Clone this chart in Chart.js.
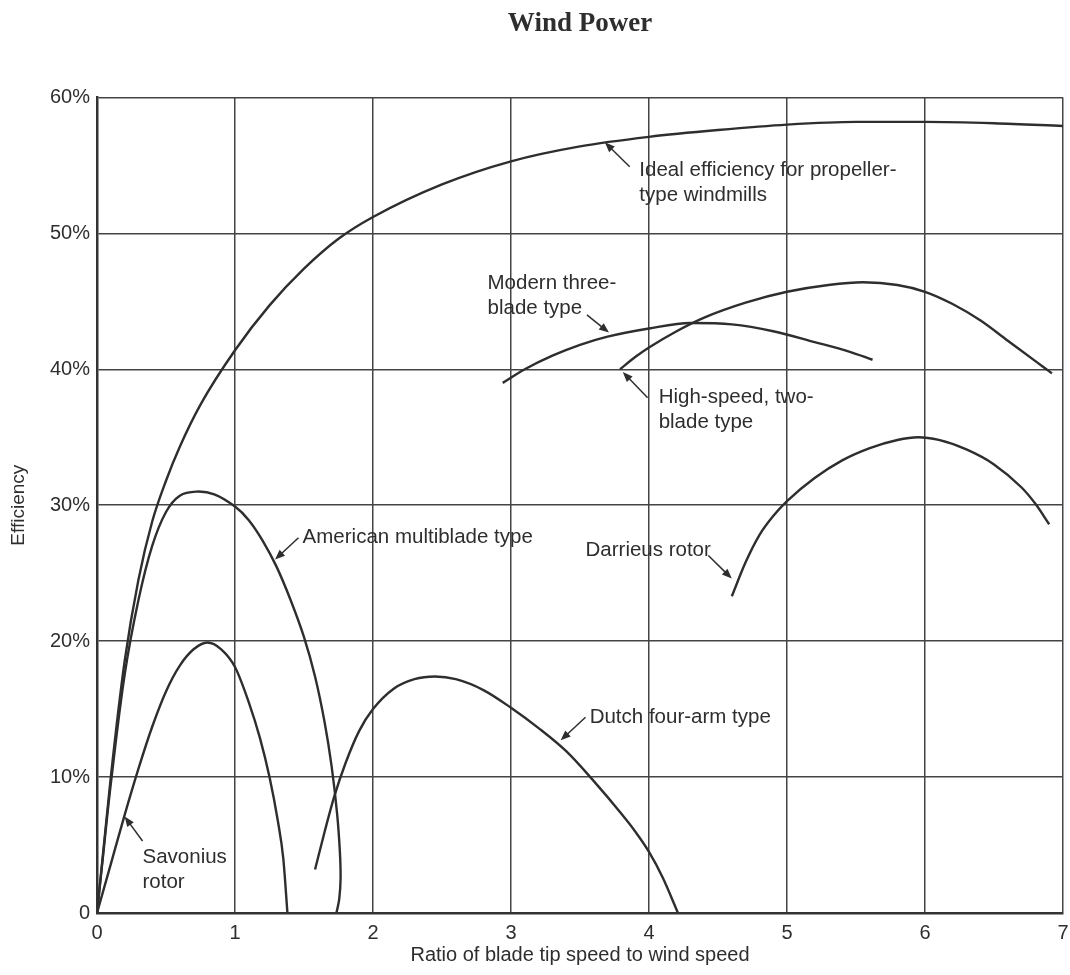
<!DOCTYPE html>
<html>
<head>
<meta charset="utf-8">
<script src="https://cdn.jsdelivr.net/npm/chart.js@4.4.1/dist/chart.umd.min.js"></script>
<style>
  html, body { margin: 0; padding: 0; background: #fff; }
  #wrap { width: 1070px; height: 975px; position: relative; }
</style>
</head>
<body>
<div id="wrap"><canvas id="windChart"></canvas></div>
<script>
// curves (x = tip speed ratio, y = efficiency %)
const idealX = [0, 0.05, 0.1, 0.2, 0.3, 0.4, 0.5, 0.6, 0.75, 1.0, 1.25, 1.5, 1.75, 2.0, 2.5, 3.0, 3.5, 4.0, 4.5, 5.0, 5.5, 6.0, 6.5, 7.0];
const idealY = [0, 5, 10, 18.5, 24.5, 28.8, 31.8, 34.3, 37.4, 41.4, 44.7, 47.4, 49.6, 51.2, 53.6, 55.3, 56.4, 57.1, 57.6, 58, 58.2, 58.2, 58.1, 57.9];

const americanX = [0, 0.05, 0.1, 0.2, 0.3, 0.4, 0.5, 0.6, 0.72, 0.85, 1.0, 1.1, 1.2, 1.3, 1.4, 1.5, 1.58, 1.65, 1.70, 1.74, 1.76, 1.765, 1.755, 1.735];
const americanY = [0, 4.8, 9.5, 17.5, 23, 27, 29.5, 30.7, 31, 30.8, 29.9, 28.9, 27.4, 25.5, 23.1, 20.3, 17.4, 14.0, 10.8, 7.3, 4.5, 2.5, 1, 0];

const savoniusX = [0, 0.1, 0.2, 0.3, 0.4, 0.5, 0.6, 0.7, 0.8, 0.9, 1.0, 1.1, 1.18, 1.25, 1.31, 1.35, 1.38];
const savoniusY = [0, 3.6, 7.2, 10.6, 13.7, 16.3, 18.2, 19.4, 19.9, 19.4, 18.1, 15.5, 12.9, 10.0, 6.8, 4.0, 0];

const dutchX = [1.58, 1.65, 1.72, 1.8, 1.9, 2.0, 2.15, 2.3, 2.45, 2.6, 2.8, 3.0, 3.2, 3.4, 3.6, 3.8, 3.9, 4.0, 4.1, 4.21];
const dutchY = [3.2, 6, 8.6, 11, 13.4, 15.0, 16.5, 17.2, 17.4, 17.2, 16.4, 15.1, 13.6, 11.9, 9.7, 7.3, 6.0, 4.5, 2.6, 0];

const modernX = [2.94, 3.1, 3.3, 3.5, 3.7, 4.0, 4.3, 4.6, 4.9, 5.2, 5.45, 5.62];
const modernY = [39, 40.0, 41, 41.8, 42.4, 43.0, 43.4, 43.3, 42.8, 42, 41.3, 40.7];

const twoBladeX = [3.79, 3.9, 4.0, 4.2, 4.4, 4.7, 5.0, 5.3, 5.55, 5.8, 6.0, 6.2, 6.4, 6.6, 6.8, 6.92];
const twoBladeY = [40, 40.9, 41.6, 42.8, 43.8, 44.9, 45.7, 46.2, 46.4, 46.2, 45.7, 44.8, 43.6, 42.1, 40.6, 39.7];

const darrieusX = [4.6, 4.7, 4.8, 4.9, 5.0, 5.2, 5.4, 5.6, 5.8, 5.95, 6.1, 6.3, 6.5, 6.7, 6.8, 6.9];
const darrieusY = [23.3, 25.8, 27.8, 29.2, 30.3, 32, 33.3, 34.2, 34.8, 35, 34.8, 34.1, 33, 31.3, 30.1, 28.6];

const xTicks = [0, 1, 2, 3, 4, 5, 6, 7];
const yTicks = [0, 10, 20, 30, 40, 50, 60];

// callout labels, placed in data units
const notes = [
  { lines: ['Ideal efficiency for propeller-', 'type windmills'], x: 3.93, y: 54.6, from: [3.86, 54.9], to: [3.68, 56.7] },
  { lines: ['Modern three-', 'blade type'], x: 2.83, y: 46.3, from: [3.55, 44.0], to: [3.71, 42.7] },
  { lines: ['High-speed, two-', 'blade type'], x: 4.07, y: 37.9, from: [3.99, 37.9], to: [3.81, 39.8] },
  { lines: ['Darrieus rotor'], x: 3.54, y: 26.7, from: [4.43, 26.3], to: [4.60, 24.6] },
  { lines: ['American multiblade type'], x: 1.49, y: 27.6, from: [1.46, 27.6], to: [1.29, 26.0] },
  { lines: ['Dutch four-arm type'], x: 3.57, y: 14.4, from: [3.54, 14.4], to: [3.36, 12.7] },
  { lines: ['Savonius', 'rotor'], x: 0.33, y: 4.1, from: [0.33, 5.3], to: [0.20, 7.1] }
];

const ink = '#2e2e2e';
const textFont = '"Liberation Sans", Arial, sans-serif';

function toPoints(xs, ys) {
  return xs.map((x, i) => ({ x: x, y: ys[i] }));
}

function curve(label, xs, ys, monotone) {
  return {
    label: label,
    data: toPoints(xs, ys),
    showLine: true,
    borderColor: ink,
    borderWidth: 2.4,
    pointRadius: 0,
    tension: 0.35,
    cubicInterpolationMode: monotone ? 'monotone' : 'default',
    fill: false
  };
}

const notesPlugin = {
  id: 'notes',
  afterDatasetsDraw(chart) {
    const { ctx, scales } = chart;
    const sx = scales.x, sy = scales.y;
    ctx.save();
    ctx.font = '20.5px ' + textFont;
    ctx.fillStyle = ink;
    ctx.strokeStyle = ink;
    ctx.textBaseline = 'middle';
    ctx.textAlign = 'left';
    notes.forEach(n => {
      const px = sx.getPixelForValue(n.x);
      const py = sy.getPixelForValue(n.y);
      n.lines.forEach((t, i) => ctx.fillText(t, px, py + i * 25));

      const x1 = sx.getPixelForValue(n.from[0]), y1 = sy.getPixelForValue(n.from[1]);
      const x2 = sx.getPixelForValue(n.to[0]), y2 = sy.getPixelForValue(n.to[1]);
      const ang = Math.atan2(y2 - y1, x2 - x1);
      ctx.lineWidth = 1.5;
      ctx.beginPath();
      ctx.moveTo(x1, y1);
      ctx.lineTo(x2 - 6 * Math.cos(ang), y2 - 6 * Math.sin(ang));
      ctx.stroke();
      ctx.beginPath();
      ctx.moveTo(x2, y2);
      ctx.lineTo(x2 - 10 * Math.cos(ang) + 4 * Math.sin(ang), y2 - 10 * Math.sin(ang) - 4 * Math.cos(ang));
      ctx.lineTo(x2 - 10 * Math.cos(ang) - 4 * Math.sin(ang), y2 - 10 * Math.sin(ang) + 4 * Math.cos(ang));
      ctx.closePath();
      ctx.fill();
    });
    ctx.restore();
  }
};

const ctx = document.getElementById('windChart').getContext('2d');

new Chart(ctx, {
  type: 'scatter',
  data: {
    datasets: [
      curve('Ideal efficiency for propeller-type windmills', idealX, idealY, true),
      curve('American multiblade type', americanX, americanY, false),
      curve('Savonius rotor', savoniusX, savoniusY, true),
      curve('Dutch four-arm type', dutchX, dutchY, true),
      curve('Modern three-blade type', modernX, modernY, true),
      curve('High-speed, two-blade type', twoBladeX, twoBladeY, true),
      curve('Darrieus rotor', darrieusX, darrieusY, true)
    ]
  },
  options: {
    responsive: true,
    maintainAspectRatio: false,
    animation: false,
    layout: {
      padding: { left: 0, right: 7, top: 0, bottom: 0 }
    },
    plugins: {
      legend: { display: false },
      tooltip: { enabled: false },
      title: {
        display: true,
        text: 'Wind Power',
        fullSize: false,
        color: ink,
        font: { family: '"Liberation Serif", "Times New Roman", serif', size: 27, weight: 'bold' },
        padding: { top: 8, bottom: 57 }
      }
    },
    scales: {
      x: {
        type: 'linear',
        min: 0,
        max: 7,
        afterBuildTicks: scale => { scale.ticks = xTicks.map(v => ({ value: v })); },
        afterFit: scale => {
          scale.height = 62;
          // let the "7" hang over the edge like the printed figure
          scale.paddingRight = 0;
        },
        grid: { color: '#444', lineWidth: 1.5, drawTicks: false },
        border: { color: '#333', width: 2.5 },
        ticks: {
          color: ink,
          padding: 8,
          maxRotation: 0,
          font: { family: textFont, size: 20 }
        },
        title: {
          display: true,
          text: 'Ratio of blade tip speed to wind speed',
          color: ink,
          font: { family: textFont, size: 20 },
          padding: { top: 0, bottom: 8 }
        }
      },
      y: {
        type: 'linear',
        min: 0,
        max: 60,
        afterBuildTicks: scale => { scale.ticks = yTicks.map(v => ({ value: v })); },
        afterFit: scale => { scale.width = 97; },
        grid: { color: '#444', lineWidth: 1.5, drawTicks: false },
        border: { color: '#333', width: 2.5 },
        ticks: {
          color: ink,
          padding: 7,
          font: { family: textFont, size: 20 },
          callback: v => v === 0 ? '0' : v + '%'
        },
        title: {
          display: true,
          text: 'Efficiency',
          color: ink,
          font: { family: textFont, size: 19 },
          padding: { top: 7, bottom: 0 }
        }
      }
    }
  },
  plugins: [notesPlugin]
});
</script>
</body>
</html>
